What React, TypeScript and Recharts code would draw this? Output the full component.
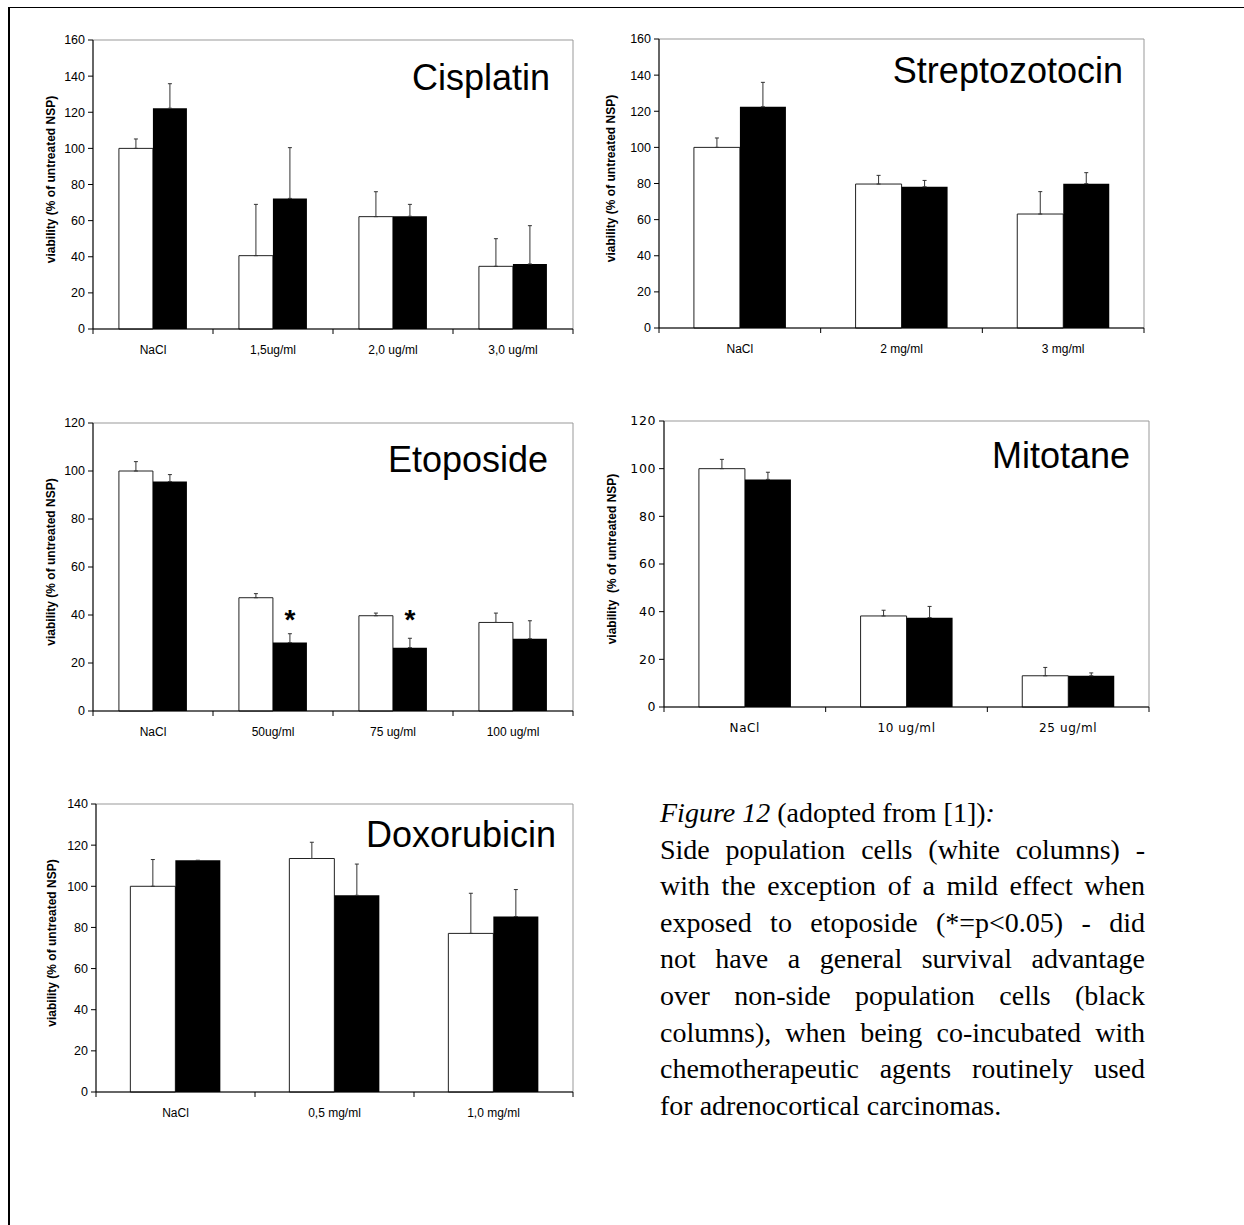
import {
  Bar,
  BarChart,
  ErrorBar,
  LabelList,
  ReferenceArea,
  XAxis,
  YAxis,
} from "recharts";

const ARIAL = "Arial, 'Liberation Sans', sans-serif";
const TIMES = "'Times New Roman', 'Liberation Serif', serif";

// Cisplatin
const cisCats = ["NaCl", "1,5ug/ml", "2,0 ug/ml", "3,0 ug/ml"];
const cisSP = [100, 40.6, 62.2, 34.7];
const cisSPErr = [5.2, 28.4, 13.8, 15.3];
const cisNSP = [122.2, 72.3, 62.4, 36.0];
const cisNSPErr = [13.6, 28.1, 6.6, 21.2];
const cisTicks = [0, 20, 40, 60, 80, 100, 120, 140, 160];

// Streptozotocin
const strCats = ["NaCl", "2 mg/ml", "3 mg/ml"];
const strSP = [100, 79.7, 63.1];
const strSPErr = [5.2, 4.8, 12.4];
const strNSP = [122.5, 78.2, 79.9];
const strNSPErr = [13.5, 3.5, 6.1];
const strTicks = [0, 20, 40, 60, 80, 100, 120, 140, 160];

// Etoposide
const etoCats = ["NaCl", "50ug/ml", "75 ug/ml", "100 ug/ml"];
const etoSP = [100, 47.2, 39.7, 36.9];
const etoSPErr = [3.9, 1.7, 1.1, 3.9];
const etoNSP = [95.6, 28.5, 26.4, 30.1];
const etoNSPErr = [2.9, 3.7, 3.9, 7.5];
const etoStars = [null, 40.5, 40.5, null];
const etoTicks = [0, 20, 40, 60, 80, 100, 120];

// Mitotane
const mitCats = ["NaCl", "10 ug/ml", "25 ug/ml"];
const mitSP = [100, 38.2, 13.1];
const mitSPErr = [3.9, 2.4, 3.5];
const mitNSP = [95.5, 37.5, 13.1];
const mitNSPErr = [3.0, 4.7, 1.2];
const mitTicks = [0, 20, 40, 60, 80, 100, 120];

// Doxorubicin
const doxCats = ["NaCl", "0,5 mg/ml", "1,0 mg/ml"];
const doxSP = [100, 113.5, 77.1];
const doxSPErr = [13, 7.9, 19.5];
const doxNSP = [112.6, 95.6, 85.3];
const doxNSPErr = [0, 15.2, 13.1];
const doxTicks = [0, 20, 40, 60, 80, 100, 120, 140];

const YW = 90;
const TOP = 12;
const RIGHT = 5;
const XH = 40;

function CatTick(props: any) {
  const { x, y, payload, index, bw, lastIndex, font, size, spacing } = props;
  const left = x - bw / 2;
  return (
    <g>
      <line x1={left} y1={y} x2={left} y2={y + 5} stroke="#000" />
      {index === lastIndex && (
        <line x1={x + bw / 2} y1={y} x2={x + bw / 2} y2={y + 5} stroke="#000" />
      )}
      <text
        x={x}
        y={y + 25}
        textAnchor="middle"
        fontSize={size}
        fontFamily={font}
        letterSpacing={spacing}
        fill="#000"
      >
        {payload.value}
      </text>
    </g>
  );
}

interface PanelProps {
  title: string;
  cats: string[];
  sp: number[];
  spErr: number[];
  nsp: number[];
  nspErr: number[];
  stars?: (number | null)[];
  ticks: number[];
  plotX: number;
  plotY: number;
  plotW: number;
  plotH: number;
  titleRight: number;
  titleBase: number;
  labelX: number;
  yLabel?: string;
  font?: string;
  spacing?: number;
}

function Panel(p: PanelProps) {
  const rows = p.cats.map((c, i) => ({
    cat: c,
    sp: p.sp[i],
    nsp: p.nsp[i],
    spErr: [0, p.spErr[i]],
    nspErr: [0, p.nspErr[i]],
    star: p.stars ? p.stars[i] : null,
  }));
  const max = p.ticks[p.ticks.length - 1];
  const left = p.plotX - YW;
  const top = p.plotY - TOP;
  const w = p.plotW + YW + RIGHT;
  const h = p.plotH + TOP + XH;
  const font = p.font ?? ARIAL;
  const bw = p.plotW / p.cats.length;
  const yLabel = p.yLabel ?? "viability (% of untreated NSP)";

  return (
    <>
      <div style={{ position: "absolute", left, top, width: w, height: h }}>
        <BarChart
          width={w}
          height={h}
          data={rows}
          margin={{ top: TOP, right: RIGHT, left: 0, bottom: 0 }}
          barCategoryGap="21.6%"
          barGap={0}
        >
          <ReferenceArea
            x1={p.cats[0]}
            x2={p.cats[p.cats.length - 1]}
            y1={0}
            y2={max}
            fill="none"
            stroke="#999"
            ifOverflow="visible"
          />
          <XAxis
            dataKey="cat"
            height={XH}
            interval={0}
            axisLine={{ stroke: "#000" }}
            tickLine={false}
            tickSize={0}
            tickMargin={0}
            tick={(tp: any) => (
              <CatTick
                {...tp}
                bw={bw}
                lastIndex={p.cats.length - 1}
                font={font}
                size={12}
                spacing={p.spacing ?? 0}
              />
            )}
          />
          <YAxis
            width={YW}
            type="number"
            domain={[0, max]}
            ticks={p.ticks}
            interval={0}
            axisLine={{ stroke: "#000" }}
            tickLine={{ stroke: "#000" }}
            tickSize={5}
            tickMargin={3}
            tick={{
              fontSize: 12.5,
              fill: "#000",
              fontFamily: font,
              letterSpacing: p.spacing ?? 0,
            }}
            label={{
              content: () => (
                <text
                  transform={`translate(${p.labelX - left},${TOP + p.plotH / 2 - 5}) rotate(-90)`}
                  textAnchor="middle"
                  dominantBaseline="central"
                  fontSize={12}
                  fontWeight="bold"
                  fontFamily={ARIAL}
                  fill="#000"
                  style={{ whiteSpace: "pre" }}
                >
                  {yLabel}
                </text>
              ),
            }}
          />
          <Bar
            dataKey="sp"
            fill="#fff"
            stroke="#222"
            strokeWidth={1}
            isAnimationActive={false}
          >
            <ErrorBar
              dataKey="spErr"
              width={2}
              stroke="#333"
              strokeWidth={1}
              isAnimationActive={false}
            />
          </Bar>
          <Bar dataKey="nsp" fill="#000" isAnimationActive={false}>
            <ErrorBar
              dataKey="nspErr"
              width={2}
              stroke="#333"
              strokeWidth={1}
              isAnimationActive={false}
            />
            {p.stars && (
              <LabelList
                dataKey="star"
                content={(lp: any) => {
                  const r = rows[lp.index];
                  if (!r || r.star == null) return null;
                  const base = lp.y + lp.height;
                  const cy = base - (r.star * lp.height) / r.nsp;
                  return (
                    <text
                      x={lp.x + lp.width / 2}
                      y={cy + 15}
                      textAnchor="middle"
                      fontSize={28}
                      fontWeight="bold"
                      fontFamily={ARIAL}
                      fill="#000"
                    >
                      *
                    </text>
                  );
                }}
              />
            )}
          </Bar>
        </BarChart>
      </div>
      <div
        style={{
          position: "absolute",
          left: p.titleRight - 400,
          top: p.titleBase - 30.5,
          width: 400,
          textAlign: "right",
          fontFamily: ARIAL,
          fontSize: 36,
          lineHeight: "36px",
          color: "#000",
          whiteSpace: "nowrap",
        }}
      >
        {p.title}
      </div>
    </>
  );
}

const lineStyle = {
  textAlign: "justify" as const,
  textAlignLast: "justify" as const,
  whiteSpace: "nowrap" as const,
};

export default function App() {
  return (
    <div
      style={{
        position: "absolute",
        left: 0,
        top: 0,
        width: 1244,
        height: 1225,
        background: "#fff",
        overflow: "hidden",
      }}
    >
      <div
        style={{
          position: "absolute",
          left: 8,
          top: 7,
          width: 1244,
          height: 1225,
          borderTop: "1.5px solid #000",
          borderLeft: "2px solid #000",
        }}
      />
      <Panel
        title="Cisplatin"
        cats={cisCats}
        sp={cisSP}
        spErr={cisSPErr}
        nsp={cisNSP}
        nspErr={cisNSPErr}
        ticks={cisTicks}
        plotX={93}
        plotY={40}
        plotW={480}
        plotH={289}
        titleRight={550}
        titleBase={90}
        labelX={51}
      />
      <Panel
        title="Streptozotocin"
        cats={strCats}
        sp={strSP}
        spErr={strSPErr}
        nsp={strNSP}
        nspErr={strNSPErr}
        ticks={strTicks}
        plotX={659}
        plotY={39}
        plotW={485}
        plotH={289}
        titleRight={1123}
        titleBase={83}
        labelX={611}
      />
      <Panel
        title="Etoposide"
        cats={etoCats}
        sp={etoSP}
        spErr={etoSPErr}
        nsp={etoNSP}
        nspErr={etoNSPErr}
        stars={etoStars}
        ticks={etoTicks}
        plotX={93}
        plotY={423}
        plotW={480}
        plotH={288}
        titleRight={548}
        titleBase={472}
        labelX={51}
      />
      <Panel
        title="Mitotane"
        cats={mitCats}
        sp={mitSP}
        spErr={mitSPErr}
        nsp={mitNSP}
        nspErr={mitNSPErr}
        ticks={mitTicks}
        plotX={664}
        plotY={421}
        plotW={485}
        plotH={286}
        titleRight={1130}
        titleBase={468}
        labelX={612}
        yLabel="viability  (% of untreated NSP)"
        font="'DejaVu Sans', Verdana, sans-serif"
        spacing={0.6}
      />
      <Panel
        title="Doxorubicin"
        cats={doxCats}
        sp={doxSP}
        spErr={doxSPErr}
        nsp={doxNSP}
        nspErr={doxNSPErr}
        ticks={doxTicks}
        plotX={96}
        plotY={804}
        plotW={477}
        plotH={288}
        titleRight={556}
        titleBase={847}
        labelX={52}
      />
      <div
        style={{
          position: "absolute",
          left: 660,
          top: 795,
          width: 485,
          fontFamily: TIMES,
          fontSize: 28,
          lineHeight: "36.6px",
          color: "#000",
        }}
      >
        <div style={{ whiteSpace: "nowrap" }}>
          <i>Figure 12</i> (adopted from [1])<i>:</i>
        </div>
        <div style={lineStyle}>Side population cells (white columns) -</div>
        <div style={lineStyle}>with the exception of a mild effect when</div>
        <div style={lineStyle}>exposed to etoposide (*=p&lt;0.05) - did</div>
        <div style={lineStyle}>not have a general survival advantage</div>
        <div style={lineStyle}>over non-side population cells (black</div>
        <div style={lineStyle}>columns), when being co-incubated with</div>
        <div style={lineStyle}>chemotherapeutic agents routinely used</div>
        <div style={{ whiteSpace: "nowrap" }}>for adrenocortical carcinomas.</div>
      </div>
    </div>
  );
}
